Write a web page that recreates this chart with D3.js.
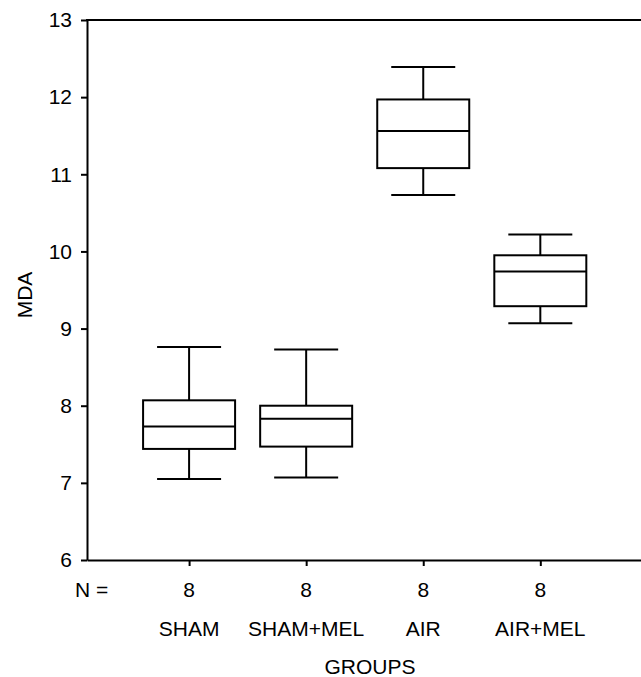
<!doctype html>
<html>
<head>
<meta charset="utf-8">
<script src="https://d3js.org/d3.v7.min.js"></script>
<style>
  body { margin: 0; background: #fff; }
  text { font-family: "Liberation Sans", Arial, sans-serif; fill: #000; }
</style>
</head>
<body>
<svg id="chart" width="641" height="677"></svg>
<script>
// groups and box statistics
var groups = ["SHAM", "SHAM+MEL", "AIR", "AIR+MEL"];
var counts = [8, 8, 8, 8];
var lowWhisker = [7.05, 7.07, 10.73, 9.07];
var q1 = [7.44, 7.47, 11.08, 9.29];
var median = [7.73, 7.83, 11.56, 9.74];
var q3 = [8.07, 8.00, 11.97, 9.95];
var highWhisker = [8.76, 8.73, 12.39, 10.22];
var yTicks = [6, 7, 8, 9, 10, 11, 12, 13];

var svg = d3.select("#chart");
var fontSize = 21;

var y = d3.scaleLinear().domain([6, 13]).range([560, 20]);
// categories sit at positions 1..4; axis runs past both ends
var x = d3.scaleLinear().domain([0.128, 4.86]).range([87, 641]);

var data = groups.map(function(g, i) {
    return { name: g, pos: i + 1, n: counts[i], lo: lowWhisker[i], q1: q1[i],
             med: median[i], q3: q3[i], hi: highWhisker[i] };
});

// y axis
var yAxis = svg.append("g")
    .attr("transform", "translate(87,0)")
    .call(d3.axisLeft(y).tickValues(yTicks).tickFormat(d3.format("d"))
          .tickSize(6).tickPadding(9).tickSizeOuter(0));
yAxis.select(".domain").attr("stroke-width", 2);
yAxis.selectAll(".tick line").attr("stroke-width", 2);
yAxis.selectAll(".tick text").attr("font-size", fontSize).attr("font-family", "Liberation Sans, Arial, sans-serif");

// x axis at bottom
var xAxis = svg.append("g")
    .attr("transform", "translate(0,560)")
    .call(d3.axisBottom(x).tickValues([1, 2, 3, 4]).tickFormat("").tickSize(6).tickSizeOuter(0));
xAxis.select(".domain").attr("stroke-width", 2);
xAxis.selectAll(".tick line").attr("stroke-width", 2);

// top frame line
svg.append("line")
    .attr("x1", 86).attr("x2", 641)
    .attr("y1", y(13)).attr("y2", y(13))
    .attr("stroke", "#000").attr("stroke-width", 2);

var boxHalf = 46, capHalf = 32;
var boxes = svg.append("g").selectAll("g.box")
    .data(data).enter().append("g").attr("class", "box");

// whiskers
boxes.append("line")
    .attr("x1", function(d) { return x(d.pos); }).attr("x2", function(d) { return x(d.pos); })
    .attr("y1", function(d) { return y(d.hi); }).attr("y2", function(d) { return y(d.q3); })
    .attr("stroke", "#000").attr("stroke-width", 2);
boxes.append("line")
    .attr("x1", function(d) { return x(d.pos); }).attr("x2", function(d) { return x(d.pos); })
    .attr("y1", function(d) { return y(d.q1); }).attr("y2", function(d) { return y(d.lo); })
    .attr("stroke", "#000").attr("stroke-width", 2);
boxes.append("line")
    .attr("x1", function(d) { return x(d.pos) - capHalf; }).attr("x2", function(d) { return x(d.pos) + capHalf; })
    .attr("y1", function(d) { return y(d.hi); }).attr("y2", function(d) { return y(d.hi); })
    .attr("stroke", "#000").attr("stroke-width", 2);
boxes.append("line")
    .attr("x1", function(d) { return x(d.pos) - capHalf; }).attr("x2", function(d) { return x(d.pos) + capHalf; })
    .attr("y1", function(d) { return y(d.lo); }).attr("y2", function(d) { return y(d.lo); })
    .attr("stroke", "#000").attr("stroke-width", 2);

boxes.append("rect")
    .attr("x", function(d) { return x(d.pos) - boxHalf; })
    .attr("y", function(d) { return y(d.q3); })
    .attr("width", boxHalf * 2)
    .attr("height", function(d) { return y(d.q1) - y(d.q3); })
    .attr("fill", "#fff").attr("stroke", "#000").attr("stroke-width", 2);

boxes.append("line")
    .attr("x1", function(d) { return x(d.pos) - boxHalf; }).attr("x2", function(d) { return x(d.pos) + boxHalf; })
    .attr("y1", function(d) { return y(d.med); }).attr("y2", function(d) { return y(d.med); })
    .attr("stroke", "#000").attr("stroke-width", 2);

// N = row
svg.append("text").attr("x", 75).attr("y", 597).attr("font-size", fontSize).text("N =");
svg.selectAll("text.n").data(data).enter().append("text")
    .attr("class", "n")
    .attr("x", function(d) { return x(d.pos); }).attr("y", 597)
    .attr("text-anchor", "middle").attr("font-size", fontSize)
    .text(function(d) { return d.n; });

// group labels
svg.selectAll("text.grp").data(data).enter().append("text")
    .attr("class", "grp")
    .attr("x", function(d) { return x(d.pos); }).attr("y", 636)
    .attr("text-anchor", "middle").attr("font-size", fontSize)
    .text(function(d) { return d.name; });

svg.append("text").attr("x", 370).attr("y", 674)
    .attr("text-anchor", "middle").attr("font-size", fontSize).text("GROUPS");

svg.append("text")
    .attr("transform", "translate(32,295) rotate(-90)")
    .attr("text-anchor", "middle").attr("font-size", fontSize).text("MDA");
</script>
</body>
</html>
